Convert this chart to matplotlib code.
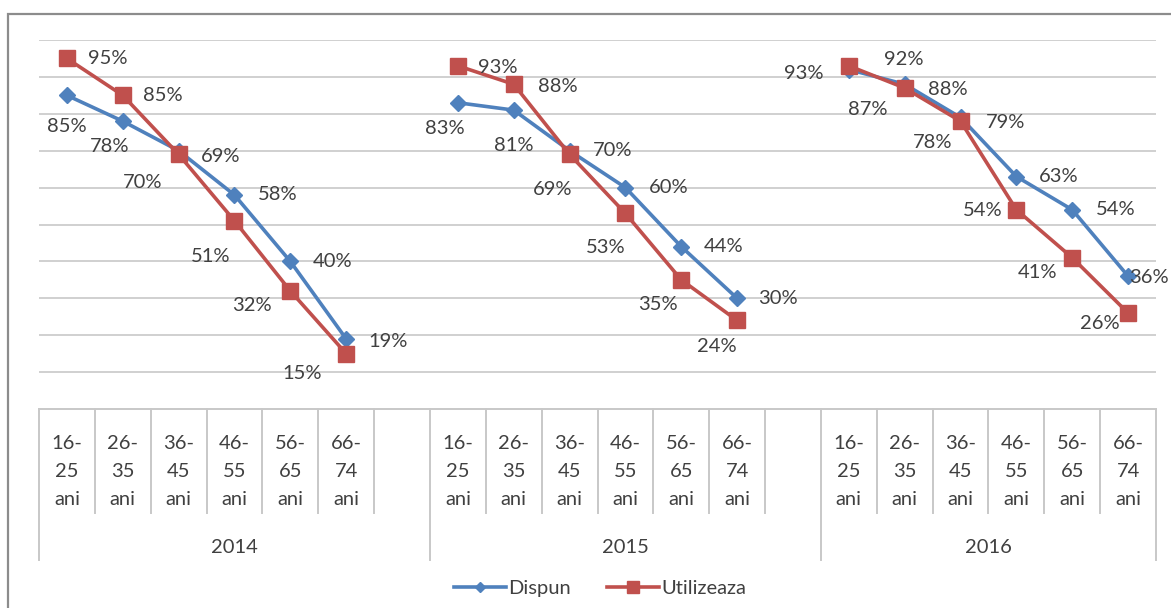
import matplotlib
matplotlib.use("Agg")
import matplotlib.pyplot as plt
from matplotlib.lines import Line2D
from matplotlib.patches import Rectangle


AGE_GROUPS = ["16-\n25\nani", "26-\n35\nani", "36-\n45\nani",
              "46-\n55\nani", "56-\n65\nani", "66-\n74\nani"]
YEARS = ["2014", "2015", "2016"]
DISPUN = [
    [0.85, 0.78, 0.70, 0.58, 0.40, 0.19],
    [0.83, 0.81, 0.70, 0.60, 0.44, 0.30],
    [0.92, 0.88, 0.79, 0.63, 0.54, 0.36],
]
UTILIZEAZA = [
    [0.95, 0.85, 0.69, 0.51, 0.32, 0.15],
    [0.93, 0.88, 0.69, 0.53, 0.35, 0.24],
    [0.93, 0.87, 0.78, 0.54, 0.41, 0.26],
]

# label offsets in pixels (dx, dy), as placed by hand in the original
DISPUN_OFFSETS = [
    [(0, -31), (-13, -25), (-36, -32), (43, 0), (42, 0), (42, -3)],
    [(-13, -26), (0, -35), (43, 0), (43, 0), (42, 0), (41, 0)],
    [(55, 10), (43, -5), (45, -5), (42, 0), (43, 0), (21, -1)],
]
UTIL_OFFSETS = [
    [(41, 0), (40, 0), (42, -2), (-24, -36), (-38, -15), (-44, -20)],
    [(40, -2), (44, -2), (-17, -35), (-20, -34), (-23, -25), (-20, -26)],
    [(-45, -8), (-37, -22), (-28, -21), (-34, -1), (-35, -15), (-28, -10)],
]

BLUE = "#4F81BD"
RED = "#C0504D"
TEXT = "#404040"
GRID = "#C8C8C8"
FONT = "Lato"
FS = 14.5

W, H = 1171, 608


def main():
    plt.rcParams["font.family"] = [FONT, "DejaVu Sans"]
    fig = plt.figure(figsize=(W / 100, H / 100), dpi=100)
    ax = fig.add_axes([39 / W, 1 - 409 / H, (1156 - 39) / W, (409 - 40) / H])

    # each year group takes len(AGE_GROUPS) slots plus one empty slot
    n = len(AGE_GROUPS)
    group_start = [g * (n + 1) for g in range(len(YEARS))]
    n_slots = group_start[-1] + n

    for g in range(len(YEARS)):
        xs = [group_start[g] + i for i in range(n)]
        ax.plot(xs, DISPUN[g], color=BLUE, lw=2.6, marker="D", ms=8.5,
                mfc=BLUE, mec=BLUE, zorder=3)
        ax.plot(xs, UTILIZEAZA[g], color=RED, lw=2.6, marker="s", ms=11,
                mfc=RED, mec=RED, zorder=4)
        for i, x in enumerate(xs):
            for vals, offs in ((DISPUN, DISPUN_OFFSETS), (UTILIZEAZA, UTIL_OFFSETS)):
                ax.annotate(f"{vals[g][i] * 100:.0f}%", (x, vals[g][i]),
                            xytext=offs[g][i], textcoords="offset pixels",
                            ha="center", va="center", fontsize=FS, color=TEXT,
                            zorder=5, annotation_clip=False)

    ax.set_xlim(-0.5, n_slots - 0.5)
    ax.set_ylim(0, 1)
    ax.set_yticks([i / 10 for i in range(1, 11)])
    ax.yaxis.grid(True, color=GRID, lw=1.2)
    ax.set_axisbelow(True)
    ax.tick_params(left=False, bottom=False, labelleft=False, labelbottom=False)
    for s in ax.spines.values():
        s.set_visible(False)

    # category table below the plot
    tr = ax.get_xaxis_transform()
    ax.plot([-0.5, n_slots - 0.5], [0, 0], color=GRID, lw=1.4, transform=tr,
            clip_on=False)
    for g in range(len(YEARS)):
        x0 = group_start[g] - 0.5
        ax.plot([x0, x0], [0, -0.409], color=GRID, lw=1.4, transform=tr,
                clip_on=False)
        for i in range(n):
            x = group_start[g] + i
            ax.text(x, -0.17, AGE_GROUPS[i], transform=tr, ha="center",
                    va="center", fontsize=FS, color=TEXT, linespacing=1.8)
            if not (g == len(YEARS) - 1 and i == n - 1):
                ax.plot([x + 0.5, x + 0.5], [0, -0.2818], color=GRID, lw=1.4,
                        transform=tr, clip_on=False)
        end = group_start[g + 1] - 0.5 if g + 1 < len(YEARS) else n_slots - 0.5
        ax.text((x0 + end) / 2, -0.374, YEARS[g], transform=tr, ha="center",
                va="center", fontsize=FS, color=TEXT)
    xe = n_slots - 0.5
    ax.plot([xe, xe], [0, -0.409], color=GRID, lw=1.4, transform=tr,
            clip_on=False)

    handles = [
        Line2D([], [], color=BLUE, lw=2.6, marker="D", ms=5.5),
        Line2D([], [], color=RED, lw=2.6, marker="s", ms=8),
    ]
    fig.legend(handles, ["Dispun", "Utilizeaza"], loc="center",
               bbox_to_anchor=(600 / W, 1 - 588 / H), ncol=2, frameon=False,
               fontsize=FS, handlelength=2.6, handletextpad=0.1,
               columnspacing=1.8, labelcolor=TEXT)

    # outer chart border (cut by the picture edges on the right and bottom)
    fig.add_artist(Rectangle((8 / W, -0.1), 1.2, 1 - 14 / H + 0.1,
                             transform=fig.transFigure, fill=False,
                             edgecolor="#8C8C8C", lw=1.6))

    fig.savefig("out.png", dpi=100)
    plt.close(fig)


if __name__ == "__main__":
    main()
